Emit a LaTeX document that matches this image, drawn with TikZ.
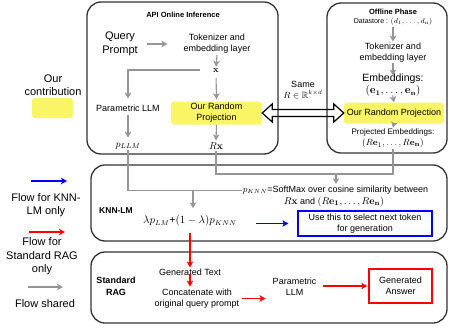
\documentclass[tikz,border=0pt]{standalone}
\usepackage[no-math]{fontspec}
\setmainfont{Liberation Sans}
\usepackage{amsmath,amssymb}
\usetikzlibrary{arrows.meta,calc}
\definecolor{panelc}{RGB}{51,51,51}
\definecolor{flowgrey}{RGB}{150,150,150}
\definecolor{hilite}{RGB}{250,245,100}
\begin{document}
\begin{tikzpicture}[x=1pt,y=-1pt,
  panel/.style={draw=panelc,line width=1.3pt,rounded corners=14pt},
  lbl/.style={align=center,inner sep=1pt,font=\fontsize{9}{11}\selectfont},
  big/.style={align=center,inner sep=1pt,font=\fontsize{11}{13.5}\selectfont},
  head/.style={align=center,inner sep=1pt,font=\fontsize{7.5}{9}\selectfont\bfseries},
  hbox/.style={lbl,fill=hilite,rounded corners=3pt},
  tip/.style={-{Stealth[length=6pt,width=6.5pt,inset=1.5pt]}},
  gline/.style={draw=flowgrey,line width=1.1pt},
  garr/.style={gline,tip},
  barr/.style={draw=blue,line width=1.4pt,tip},
  rarr/.style={draw=red,line width=1.4pt,tip},
  dbl/.style={draw=black,line width=1.2pt,line join=miter}]
\useasboundingbox (0,0) rectangle (449,329);

% panels
\draw[panel] (87,2) rectangle (278,154);
\draw[panel] (327,3) rectangle (447,153);
\draw[panel] (91,165) rectangle (447,241);
\draw[panel] (91,252) rectangle (447,323);

% legend
\node[big] (ourc) at (53,85) {Our\\contribution};
\draw[fill=hilite,draw=none,rounded corners=3pt] (32,98) rectangle (73,118);
\coordinate (lb1) at (31,181); \coordinate (lb2) at (67,181);
\draw[barr] (lb1) -- (lb2);
\node[big] (lgb) at (46,205) {Flow for KNN-\\LM only};
\coordinate (lr1) at (29,232); \coordinate (lr2) at (65,232);
\draw[rarr] (lr1) -- (lr2);
\node[big] (lgr) at (42,256.5) {Flow for\\Standard RAG\\only};
\coordinate (lg1) at (28,287); \coordinate (lg2) at (63,287);
\draw[garr] (lg1) -- (lg2);
\node[big] (lgg) at (45,304) {Flow shared};

% online inference
\node[head] (apit) at (183,15) {API Online Inference};
\node[big] (qp) at (120,44) {Query\\Prompt};
\node[lbl] (tok) at (217,44) {Tokenizer and\\embedding layer};
\node[lbl] (xv) at (216,70) {$\mathbf{x}$};
\node[lbl] (plm) at (128,108) {Parametric LLM};
\node[hbox,minimum width=91pt,minimum height=23pt] (proj) at (216.5,113) {Our Random\\Projection};
\node[lbl,font=\fontsize{10}{12}\selectfont] (pllm) at (128,146) {$p_{LLM}$};
\node[lbl,font=\fontsize{10}{12}\selectfont] (rx) at (216,146) {$R\mathbf{x}$};

\draw[garr,shorten <=8pt,shorten >=15pt] (qp.east |- tok.west) -- (tok.west);
\draw[garr] (tok.south) -- (xv.north);
\draw[garr,shorten <=12pt,shorten >=5pt] (xv.west) -| (plm.north);
\draw[garr,shorten <=5pt,shorten >=2pt] (xv.south) -- (proj.north);
\draw[garr,shorten >=1pt] (proj.south) -- (rx.north);
\draw[garr,shorten <=2pt,shorten >=4pt] (plm.south) -- (pllm.north);

% offline phase
\node[head] (offt) at (393,12) {Offline Phase};
\node[lbl,font=\fontsize{7}{8}\selectfont] (ds) at (393,22) {Datastore : $(d_1,\ldots,d_{\mathrm{n}})$};
\node[lbl] (tok2) at (393,52.5) {Tokenizer and\\embedding layer};
\node[lbl,font=\fontsize{10.5}{12}\selectfont] (emb) at (393,85) {Embeddings:\\$(\mathbf{e_1},\ldots,\mathbf{e_n})$};
\node[hbox,minimum width=100pt,minimum height=21pt] (proj2) at (394,113) {Our Random Projection};
\node[lbl,font=\fontsize{8}{11}\selectfont] (pe) at (393,138.5) {Projected Embeddings:\\{\fontsize{9.5}{11}\selectfont$(R\mathbf{e}_1,\ldots,R\mathbf{e}_{\mathbf{n}})$}};

\draw[garr] (ds.south) -- (tok2.north);
\draw[garr,shorten >=-3pt] (tok2.south) -- (emb.north);
\draw[garr,shorten <=-2pt] (emb.south) -- (proj2.north);
\draw[garr,shorten <=-1pt] (proj2.south) -- (pe.north);

% shared projection matrix
\node[lbl] (same) at (303,90) {Same\\$R\in\mathbb{R}^{k\times d}$};
\draw[dbl] (proj.east) -- ++(10,-9) -- ++(0,5.5)
  -- ($(proj2.west)+(-10,-3.5)$) -- ++(0,-5.5) -- (proj2.west)
  -- ++(-10,9) -- ++(0,-5.5) -- ($(proj.east)+(10,3.5)$) -- ++(0,5.5) -- cycle;

% KNN-LM
\node[lbl,font=\fontsize{8.5}{10}\selectfont\bfseries] (knnt) at (116,211) {KNN-LM};
\node[lbl,font=\fontsize{10.5}{12}\selectfont] (lam) at (190,221) {$\lambda p_{LM}$+$(1-\lambda)p_{KNN}$};
\node[lbl] (pknnA) at (335.5,190.5) {$p_{KNN}$=SoftMax over cosine similarity between};
\node[lbl] (pknnB) at (334,201.5) {{\fontsize{10}{12}\selectfont$R\mathbf{x}$} and {\fontsize{10}{12}\selectfont$(R\mathbf{e_1},\ldots,R\mathbf{e_n})$}};
\node[lbl,draw=blue,line width=1.3pt,minimum width=134pt,minimum height=25pt] (use) at (365,223.5) {Use this to select next token\\for generation};

\draw[gline] (pllm.south) |- (pknnA.west);
\draw[gline] (rx.south) |- (pe.south |- 0,174) -- (pe.south);
\coordinate (j1) at (193,190.5);
\draw[garr,shorten >=6pt] (j1) -- (j1 |- lam.north);
\coordinate (j2) at (336,174);
\draw[garr,shorten >=1pt] (j2) -- (j2 |- pknnA.north);
\draw[barr,shorten <=18pt,shorten >=9pt] (lam.east |- use.west) -- (use.west);

% standard RAG
\node[lbl,font=\fontsize{9}{11.5}\selectfont\bfseries] (ragt) at (116,286.5) {Standard\\RAG};
\node[lbl] (gen) at (190,272) {Generated Text};
\node[lbl] (cat) at (197,298.5) {Concatenate with\\original query prompt};
\node[lbl] (plm2) at (294.5,287) {Parametric\\LLM};
\node[lbl,draw=red,line width=1.3pt,minimum width=63pt,minimum height=34pt] (ans) at (400.5,286) {Generated\\Answer};

\draw[rarr,shorten <=5pt] (lam.south -| gen.north) -- (gen.north);
\draw[rarr,shorten <=-3pt,shorten >=1pt] (gen.south) -- (gen.south |- cat.north);
\draw[rarr,shorten <=2pt,shorten >=6pt] (cat.east) -- (cat.east -| plm2.west);
\draw[rarr,shorten <=6pt,shorten >=1pt] (plm2.east |- ans.west) -- (ans.west);
\end{tikzpicture}
\end{document}
